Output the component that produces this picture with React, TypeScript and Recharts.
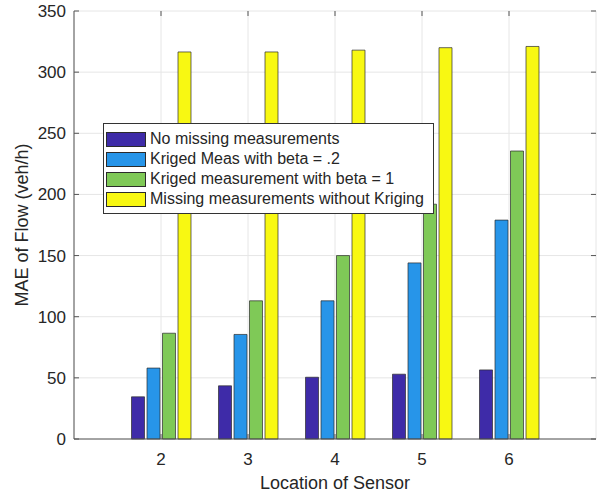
import React from "react";
import {
  BarChart,
  Bar,
  XAxis,
  YAxis,
  CartesianGrid,
  Legend,
} from "recharts";

// sensor locations on the x axis
const locations = ["2", "3", "4", "5", "6"];

// MAE of flow (veh/h) per series
const noMissing = [34.5, 43.5, 50.5, 53, 56.5];
const krigedBeta02 = [58, 85.5, 113, 144, 179];
const krigedBeta1 = [86.5, 113, 150, 192, 235.5];
const missingNoKriging = [316.5, 316.5, 318, 320, 321];

const yTicks = [0, 50, 100, 150, 200, 250, 300, 350];

const seriesNames = [
  "No missing measurements",
  "Kriged Meas with beta = .2",
  "Kriged measurement with beta = 1",
  "Missing measurements without Kriging",
];

const data = locations.map((loc, i) => ({
  loc,
  noMissing: noMissing[i],
  krigedBeta02: krigedBeta02[i],
  krigedBeta1: krigedBeta1[i],
  missingNoKriging: missingNoKriging[i],
}));

const FONT = "'Liberation Sans', Arial, Helvetica, sans-serif";
const TEXT = "#262626";
const AXIS = "#555555";
const EDGE = "#2b2b2b";
const PLOT = { left: 74, right: 596, top: 11, bottom: 439 };

const COLORS = ["#3e2ba8", "#2795e9", "#7fc957", "#f8f812"];

// y tick label + inward ticks on both sides
const LeftTick = (props: any) => {
  const { x, y, payload } = props;
  return (
    <g>
      <text x={x} y={y} dy="0.35em" textAnchor="end" fill={TEXT} fontSize={17} fontFamily={FONT}>
        {payload.value}
      </text>
      <line x1={PLOT.left} x2={PLOT.left + 5} y1={y} y2={y} stroke={AXIS} />
      <line x1={PLOT.right - 5} x2={PLOT.right} y1={y} y2={y} stroke={AXIS} />
    </g>
  );
};

// x tick label + inward ticks top and bottom
const BottomTick = (props: any) => {
  const { x, y, payload } = props;
  return (
    <g>
      <text x={x} y={y} dy="0.71em" textAnchor="middle" fill={TEXT} fontSize={17} fontFamily={FONT}>
        {payload.value}
      </text>
      <line x1={x} x2={x} y1={PLOT.bottom} y2={PLOT.bottom - 5} stroke={AXIS} />
      <line x1={x} x2={x} y1={PLOT.top} y2={PLOT.top + 5} stroke={AXIS} />
    </g>
  );
};

const YTitle = () => (
  <text
    transform={`translate(28, ${(PLOT.top + PLOT.bottom) / 2}) rotate(-90)`}
    textAnchor="middle"
    fill={TEXT}
    fontSize={18}
    fontFamily={FONT}
  >
    MAE of Flow (veh/h)
  </text>
);

const LegendBox = () => (
  <div
    style={{
      width: 331,
      height: 91,
      boxSizing: "border-box",
      border: "1px solid #333",
      background: "#fff",
      padding: "5px 0 4px 2px",
      fontFamily: FONT,
      fontSize: 16,
      color: TEXT,
    }}
  >
    {seriesNames.map((name, i) => (
      <div key={name} style={{ display: "flex", alignItems: "center", height: 20 }}>
        <div
          style={{
            width: 40,
            height: 15,
            boxSizing: "border-box",
            background: COLORS[i],
            border: `1px solid ${EDGE}`,
          }}
        />
        <span style={{ marginLeft: 4, lineHeight: "20px", whiteSpace: "nowrap" }}>{name}</span>
      </div>
    ))}
  </div>
);

export default function App() {
  return (
    <div style={{ position: "absolute", left: 0, top: 0, width: 606, height: 498, background: "#fff" }}>
      <BarChart
        width={606}
        height={498}
        data={data}
        margin={{ top: 11, right: 10, left: 0, bottom: 0 }}
        barSize={13}
        barGap={2.5}
        style={{ fontFamily: FONT }}
      >
        <CartesianGrid stroke="#e6e6e6" strokeWidth={1} />
        <XAxis
          dataKey="loc"
          height={59}
          padding={{ left: 43.5, right: 43.5 }}
          axisLine={{ stroke: AXIS }}
          tickLine={false}
          tickSize={0}
          tickMargin={14}
          tick={<BottomTick />}
          interval={0}
          label={{
            value: "Location of Sensor",
            position: "insideBottom",
            offset: 9,
            fill: TEXT,
            fontSize: 18,
            fontFamily: FONT,
          }}
        />
        <XAxis
          xAxisId="top"
          dataKey="loc"
          orientation="top"
          height={0}
          padding={{ left: 43.5, right: 43.5 }}
          axisLine={{ stroke: AXIS }}
          tickLine={false}
          tick={false}
        />
        <YAxis
          width={74}
          domain={[0, 350]}
          ticks={yTicks}
          axisLine={{ stroke: AXIS }}
          tickLine={false}
          tickSize={0}
          tickMargin={8}
          tick={<LeftTick />}
          interval={0}
          label={<YTitle />}
        />
        <YAxis
          yAxisId="right"
          orientation="right"
          width={0}
          domain={[0, 350]}
          ticks={yTicks}
          axisLine={{ stroke: AXIS }}
          tickLine={false}
          tick={false}
        />
        <Legend
          layout="horizontal"
          verticalAlign="middle"
          align="center"
          content={<LegendBox />}
          wrapperStyle={{ position: "absolute", left: 103, top: 123, width: 331, height: 91 }}
        />
        <Bar dataKey="noMissing" name={seriesNames[0]} fill={COLORS[0]} stroke={EDGE} strokeWidth={0.7} isAnimationActive={false} />
        <Bar dataKey="krigedBeta02" name={seriesNames[1]} fill={COLORS[1]} stroke={EDGE} strokeWidth={0.7} isAnimationActive={false} />
        <Bar dataKey="krigedBeta1" name={seriesNames[2]} fill={COLORS[2]} stroke={EDGE} strokeWidth={0.7} isAnimationActive={false} />
        <Bar dataKey="missingNoKriging" name={seriesNames[3]} fill={COLORS[3]} stroke={EDGE} strokeWidth={0.7} isAnimationActive={false} />
      </BarChart>
    </div>
  );
}
